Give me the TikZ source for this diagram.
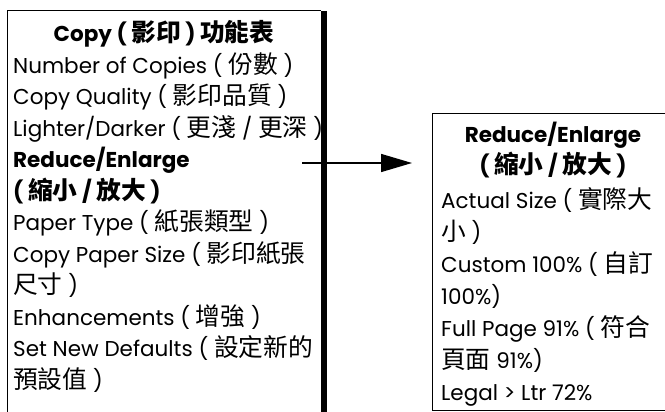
\documentclass[tikz,border=0pt]{standalone}
\usepackage{fontspec}
\setmainfont{Poppins}
\newfontfamily\cjk[Scale=1.15]{Noto Sans CJK TC}
\newcommand{\zh}[1]{{\cjk #1}}
\usetikzlibrary{arrows.meta}

\begin{document}
\begin{tikzpicture}[x=1pt,y=-1pt,
  every node/.style={inner sep=0pt,font=\fontsize{21.5}{31.5}\selectfont},
  menu/.style={anchor=base west,align=left},
  head/.style={anchor=base,align=center,font=\fontsize{21.5}{31.5}\selectfont\bfseries}]
\useasboundingbox (0,0) rectangle (665,412);
\clip (0,0) rectangle (665,412);
\draw[line width=1pt] (7,430) -- (7,11) -- (321,11);
\draw[line width=6pt] (324,11) -- (324,430);
\draw[line width=1pt] (700,114) -- (432,114) -- (432,410) -- (700,410);
\node[head] (copytitle) at (164,41.5) {Copy ( \zh{影印} ) \zh{功能表}};
\node[menu] (copymenu) at (13,388) {Number of Copies ( \zh{份數} )\\
Copy Quality ( \zh{影印品質} )\\
Lighter/Darker ( \zh{更淺} / \zh{更深} )\\
\textbf{Reduce/Enlarge}\\
\textbf{( \zh{縮小} / \zh{放大} )}\\
Paper Type ( \zh{紙張類型} )\\
Copy Paper Size ( \zh{影印紙張}\\
\zh{尺寸} )\\
Enhancements ( \zh{增強} )\\
Set New Defaults ( \zh{設定新的}\\
\zh{預設值} )};
\node[head] (sizetitle) at (553,173.5) {Reduce/Enlarge\\( \zh{縮小} / \zh{放大} )};
\node[menu,font=\fontsize{21.5}{32}\selectfont] (sizemenu) at (441,400) {Actual Size ( \zh{實際大}\\
\zh{小} )\\
Custom 100\% ( \zh{自訂}\\
100\%)\\
Full Page 91\% ( \zh{符合}\\
\zh{頁面} 91\%)\\
Legal > Ltr 72\%};
\coordinate (from) at (302,163);
\coordinate (to) at (412,163);
\draw[line width=1.5pt,-{Triangle[length=31pt,width=18pt]}] (from) -- (to);
\end{tikzpicture}
\end{document}
